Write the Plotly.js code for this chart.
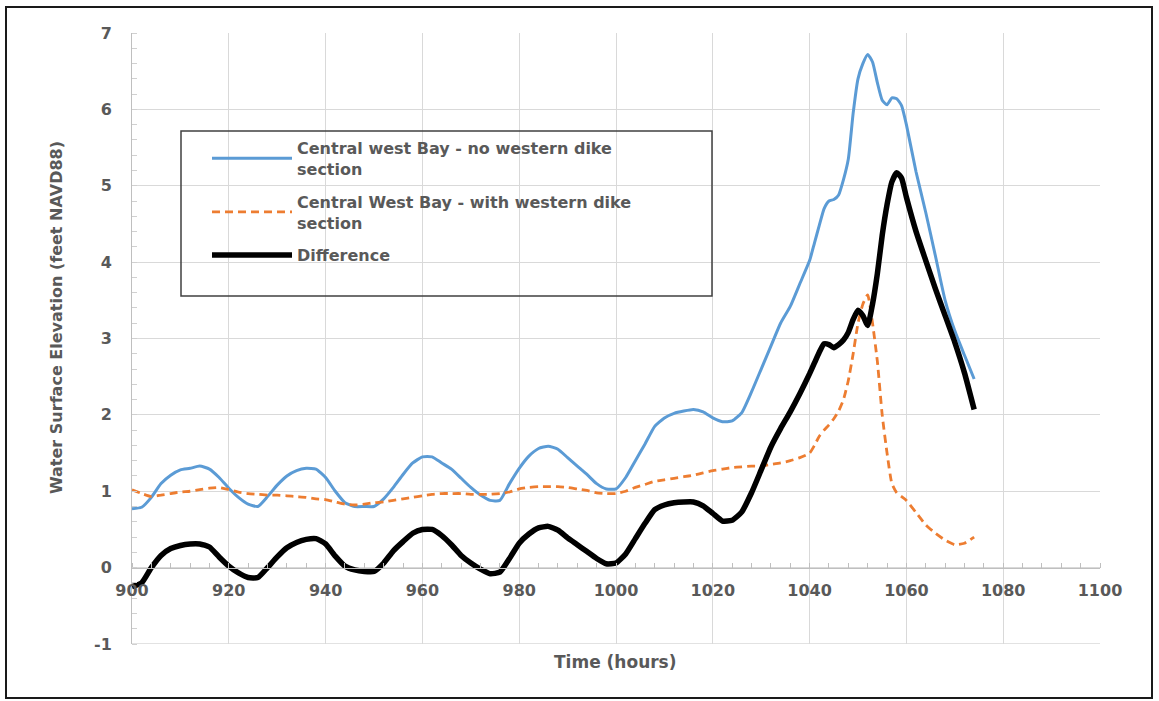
<!DOCTYPE html>
<html>
<head>
<meta charset="utf-8">
<script src="https://cdn.plot.ly/plotly-3.0.1.min.js"></script>
<style>
  html, body { margin: 0; padding: 0; background: #ffffff; }
  #chart { width: 1159px; height: 701px; }
</style>
</head>
<body>
<div id="chart"></div>
<script>
// Time (hours)
const hours = [900,902,904,906,908,910,912,914,916,918,920,922,924,926,928,930,932,934,936,938,
  940,942,944,946,948,950,952,954,956,958,960,962,964,966,968,970,972,974,976,978,
  980,982,984,986,988,990,992,994,996,998,1000,1002,1004,1006,1008,1010,1012,1014,1016,1018,
  1020,1022,1024,1026,1028,1030,1032,1034,1036,1038,1040,
  1041,1042,1043,1044,1045,1046,1047,1048,1049,1050,1051,1052,1053,1054,1055,1056,1057,1058,1059,1060,
  1062,1064,1066,1068,1070,1072,1074];

// Central west Bay - no western dike section
const noDike = [0.77,0.79,0.92,1.10,1.21,1.28,1.30,1.33,1.29,1.18,
  1.04,0.92,0.83,0.80,0.93,1.08,1.20,1.27,1.30,1.29,
  1.18,1.00,0.85,0.80,0.80,0.80,0.90,1.05,1.22,1.37,
  1.45,1.45,1.37,1.29,1.17,1.05,0.95,0.88,0.88,1.10,
  1.30,1.46,1.56,1.59,1.55,1.44,1.33,1.22,1.10,1.03,
  1.03,1.18,1.40,1.62,1.85,1.96,2.02,2.05,2.07,2.04,
  1.96,1.91,1.92,2.03,2.30,2.60,2.90,3.20,3.42,3.72,
  4.02,
  4.25,4.48,4.70,4.80,4.82,4.88,5.08,5.35,5.95,6.40,6.60,6.72,6.62,6.35,6.12,6.06,6.15,6.14,6.05,5.80,
  5.18,4.65,4.08,3.50,3.10,2.78,2.47];

// Central West Bay - with western dike section
const withDike = [1.02,0.97,0.93,0.95,0.97,0.99,1.00,1.02,1.04,1.05,
  1.02,0.99,0.97,0.96,0.95,0.95,0.94,0.93,0.92,0.90,
  0.89,0.86,0.83,0.82,0.83,0.85,0.86,0.88,0.90,0.92,
  0.94,0.96,0.97,0.97,0.97,0.96,0.96,0.96,0.97,0.99,
  1.03,1.05,1.06,1.06,1.06,1.05,1.03,1.01,0.98,0.97,
  0.97,1.00,1.05,1.09,1.13,1.15,1.17,1.19,1.21,1.24,
  1.27,1.29,1.31,1.32,1.33,1.33,1.35,1.37,1.40,1.44,
  1.50,
  1.60,1.72,1.80,1.87,1.95,2.05,2.20,2.45,2.80,3.20,3.45,3.57,3.20,2.70,2.00,1.50,1.10,0.98,0.93,0.88,
  0.72,0.56,0.45,0.36,0.30,0.32,0.40];

// Difference
const difference = [-0.25,-0.20,0.00,0.16,0.25,0.29,0.31,0.31,0.27,0.14,
  0.02,-0.07,-0.13,-0.13,0.00,0.14,0.26,0.33,0.37,0.38,
  0.31,0.15,0.02,-0.03,-0.05,-0.05,0.06,0.22,0.34,0.45,
  0.50,0.50,0.42,0.30,0.16,0.06,-0.02,-0.08,-0.06,0.12,
  0.32,0.44,0.52,0.54,0.49,0.39,0.30,0.21,0.12,0.05,
  0.06,0.18,0.38,0.58,0.76,0.82,0.85,0.86,0.86,0.81,
  0.71,0.61,0.62,0.73,0.98,1.28,1.58,1.82,2.04,2.28,
  2.54,
  2.68,2.82,2.93,2.92,2.88,2.92,2.98,3.08,3.25,3.37,3.30,3.17,3.45,3.85,4.35,4.75,5.05,5.17,5.10,4.85,
  4.40,4.02,3.65,3.30,2.95,2.55,2.07];

const seriesNames = [
  "Central west Bay - no western dike<br>section",
  "Central West Bay - with western dike<br>section",
  "Difference"
];
const xTickVals = [900,920,940,960,980,1000,1020,1040,1060,1080,1100];
const yTickVals = [-1,0,1,2,3,4,5,6,7];
const yTickText = ["-1","0","1","2","3","4","5","6","7"];

const textFont = {family: "DejaVu Sans, Verdana, sans-serif", size: 16, color: "#595959", weight: "bold"};

const traces = [
  {x: hours, y: noDike, name: seriesNames[0], legendgroup: "g1", type: "scatter", mode: "lines",
   line: {color: "#5B9BD5", width: 3, shape: "spline", smoothing: 0.5}},
  {x: hours, y: withDike, name: seriesNames[1], legendgroup: "g2", type: "scatter", mode: "lines",
   line: {color: "#ED7D31", width: 2.8, dash: "8px,5px", shape: "spline", smoothing: 0.5}},
  {x: hours, y: difference, name: seriesNames[2], legendgroup: "g3", type: "scatter", mode: "lines",
   line: {color: "#000000", width: 5.5, shape: "spline", smoothing: 0.5}}
];

const px2x = p => (p - 132) / 968;
const px2y = p => (644 - p) / 611;

const layout = {
  width: 1159, height: 701,
  margin: {l: 132, r: 59, t: 33, b: 57, pad: 0},
  paper_bgcolor: "#ffffff", plot_bgcolor: "#ffffff",
  showlegend: true,
  legend: {
    x: px2x(207), y: px2y(131), xanchor: "left", yanchor: "top",
    bgcolor: "rgba(0,0,0,0)", borderwidth: 0,
    font: textFont, itemwidth: 80, tracegroupgap: 9,
    itemclick: false, itemdoubleclick: false
  },
  xaxis: {
    range: [900, 1100], tickmode: "array", tickvals: xTickVals,
    showgrid: true, gridcolor: "#d9d9d9", gridwidth: 1,
    showline: true, linecolor: "#bfbfbf", linewidth: 1.5,
    anchor: "free", position: 0.125,
    ticks: "", zeroline: false,
    minor: {dtick: 4, tick0: 900, ticks: "inside", ticklen: 5, tickcolor: "#bfbfbf", tickwidth: 1, showgrid: false},
    tickfont: textFont, ticklabelstandoff: 8, fixedrange: true
  },
  yaxis: {
    range: [-1, 7], tickmode: "array", tickvals: yTickVals, ticktext: yTickText,
    showgrid: true, gridcolor: "#d9d9d9", gridwidth: 1,
    showline: true, linecolor: "#bfbfbf", linewidth: 1,
    ticks: "", zeroline: false,
    minor: {dtick: 0.2, tick0: 0, ticks: "inside", ticklen: 5, tickcolor: "#d0d0d0", tickwidth: 1, showgrid: false},
    tickfont: textFont, ticklabelstandoff: 16, fixedrange: true
  },
  shapes: [
    // legend frame
    {type: "rect", xref: "paper", yref: "paper", x0: px2x(181), x1: px2x(712), y0: px2y(296), y1: px2y(131),
     line: {color: "#404040", width: 1.5}, fillcolor: "rgba(0,0,0,0)", layer: "above"},
    // bottom plot border at -1
    {type: "line", xref: "paper", yref: "y", x0: 0, x1: 1, y0: -1, y1: -1, line: {color: "#d9d9d9", width: 1.5}, layer: "below"},
    // outer frame
    {type: "rect", xref: "paper", yref: "paper", x0: px2x(6), x1: px2x(1152), y0: px2y(698), y1: px2y(7),
     line: {color: "#1a1a1a", width: 2}, fillcolor: "rgba(0,0,0,0)", layer: "above"}
  ],
  annotations: [
    {text: "Time (hours)", xref: "paper", yref: "paper", x: px2x(615), y: px2y(662),
     xanchor: "center", yanchor: "middle", showarrow: false,
     font: {family: "DejaVu Sans, Verdana, sans-serif", size: 17, color: "#595959", weight: "bold"}},
    {text: "Water Surface Elevation (feet NAVD88)", xref: "paper", yref: "paper", x: px2x(56), y: px2y(318),
     xanchor: "center", yanchor: "middle", showarrow: false, textangle: -90,
     font: {family: "DejaVu Sans, sans-serif", size: 16, color: "#595959", weight: "bold"}}
  ]
};

Plotly.newPlot("chart", traces, layout, {staticPlot: true, displayModeBar: false});
</script>
</body>
</html>
